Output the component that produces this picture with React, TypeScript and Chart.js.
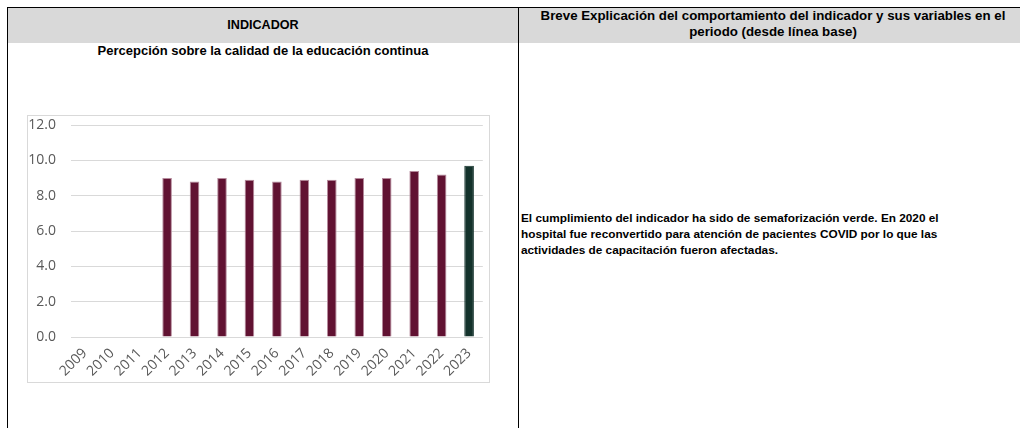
import React, { useEffect, useRef } from "react";
import { Chart, registerables } from "chart.js";

Chart.register(...registerables);

const categories = ["2009", "2010", "2011", "2012", "2013", "2014", "2015", "2016", "2017", "2018", "2019", "2020", "2021", "2022", "2023"];
const values: (number | null)[] = [null, null, null, 9.0, 8.8, 9.0, 8.9, 8.8, 8.9, 8.9, 9.0, 9.0, 9.4, 9.2, 9.7];
const barColors = ["#611232", "#611232", "#611232", "#611232", "#611232", "#611232", "#611232", "#611232", "#611232", "#611232", "#611232", "#611232", "#611232", "#611232", "#13322B"];
const edgeColors = ["#b58a9c", "#b58a9c", "#b58a9c", "#b58a9c", "#b58a9c", "#b58a9c", "#b58a9c", "#b58a9c", "#b58a9c", "#b58a9c", "#b58a9c", "#b58a9c", "#b58a9c", "#b58a9c", "#13322B"];
const yTicks = [0, 2, 4, 6, 8, 10, 12];

const headerLeft = "INDICADOR";
const headerRight = ["Breve Explicación del comportamiento del indicador y sus variables en el", "periodo (desde línea base)"];
const chartTitle = "Percepción sobre la calidad de la educación continua";
const bodyLines = [
  "El cumplimiento del indicador ha sido de semaforización verde. En 2020 el",
  "hospital fue reconvertido para atención de pacientes COVID por lo que las",
  "actividades de capacitación fueron afectadas.",
];

function BarChart() {
  const ref = useRef<HTMLCanvasElement | null>(null);
  useEffect(() => {
    if (!ref.current) return;
    const tickFont = { family: '"Open Sans", sans-serif', size: 14 };
    const chart = new Chart(ref.current, {
      type: "bar",
      data: {
        labels: categories,
        datasets: [
          {
            data: values,
            backgroundColor: barColors,
            borderColor: edgeColors,
            borderWidth: { top: 1, left: 1, right: 1, bottom: 0 },
            borderSkipped: "start",
            categoryPercentage: 1,
            barPercentage: 0.35,
          },
        ],
      },
      options: {
        responsive: false,
        animation: false,
        maintainAspectRatio: false,
        layout: { padding: { top: 9, right: 1, bottom: 0, left: 0 } },
        plugins: { legend: { display: false }, tooltip: { enabled: false }, title: { display: false } },
        scales: {
          x: {
            grid: { display: false, drawTicks: false },
            border: { display: false },
            ticks: {
              color: "#595959",
              font: tickFont,
              maxRotation: 45,
              minRotation: 45,
              padding: 8,
              autoSkip: false,
            },
            afterFit: (s: any) => {
              s.height = 45;
            },
          },
          y: {
            min: 0,
            max: 12,
            afterBuildTicks: (s: any) => {
              s.ticks = yTicks.map((v) => ({ value: v }));
            },
            grid: { color: "#d9d9d9", drawTicks: true, tickLength: 15, tickColor: "rgba(0,0,0,0)", lineWidth: 1 },
            border: { display: false },
            ticks: {
              color: "#595959",
              font: tickFont,
              padding: 0,
              callback: (v: any) => Number(v).toFixed(1),
            },
            afterFit: (s: any) => {
              s.width = 43;
            },
          },
        },
      },
    });
    return () => chart.destroy();
  }, []);
  return <canvas ref={ref} width={461} height={266} style={{ display: "block", width: 461, height: 266 }} />;
}

export default function App() {
  const font = '"Liberation Sans", Arial, sans-serif';
  const abs = (s: React.CSSProperties): React.CSSProperties => ({ position: "absolute", ...s });
  return (
    <div style={{ position: "fixed", left: 0, top: 0, width: 1020, height: 428, overflow: "hidden", background: "#fff", fontFamily: font, color: "#000" }}>
      <div style={abs({ left: 8, top: 8, width: 1030, height: 35, background: "#d9d9d9" })} />
      <div style={abs({ left: 7, top: 7, width: 1030, height: 1, background: "#000" })} />
      <div style={abs({ left: 7, top: 7, width: 1, height: 430, background: "#000" })} />
      <div style={abs({ left: 518, top: 7, width: 1, height: 430, background: "#000" })} />

      <div style={abs({ left: 8, top: 16.9, width: 510, textAlign: "center", fontSize: 12.6, fontWeight: "bold", lineHeight: "16px", whiteSpace: "nowrap" })}>{headerLeft}</div>
      <div style={abs({ left: 8, top: 42.6, width: 510, textAlign: "center", fontSize: 13, fontWeight: "bold", lineHeight: "16px", whiteSpace: "nowrap" })}>{chartTitle}</div>

      <div style={abs({ left: 519, top: 7.6, width: 508, textAlign: "center", fontSize: 13.3, fontWeight: "bold", lineHeight: "16px", whiteSpace: "nowrap" })}>
        {headerRight.map((l, i) => (
          <div key={i}>{l}</div>
        ))}
      </div>

      <div style={abs({ left: 521, top: 209.5, fontSize: 11.8, fontWeight: "bold", lineHeight: "16.3px", whiteSpace: "nowrap" })}>
        {bodyLines.map((l, i) => (
          <div key={i}>{l}</div>
        ))}
      </div>

      <div style={abs({ left: 27, top: 115, width: 463, height: 268, border: "1px solid #d9d9d9", boxSizing: "border-box", background: "#fff" })}>
        <BarChart />
      </div>
    </div>
  );
}
